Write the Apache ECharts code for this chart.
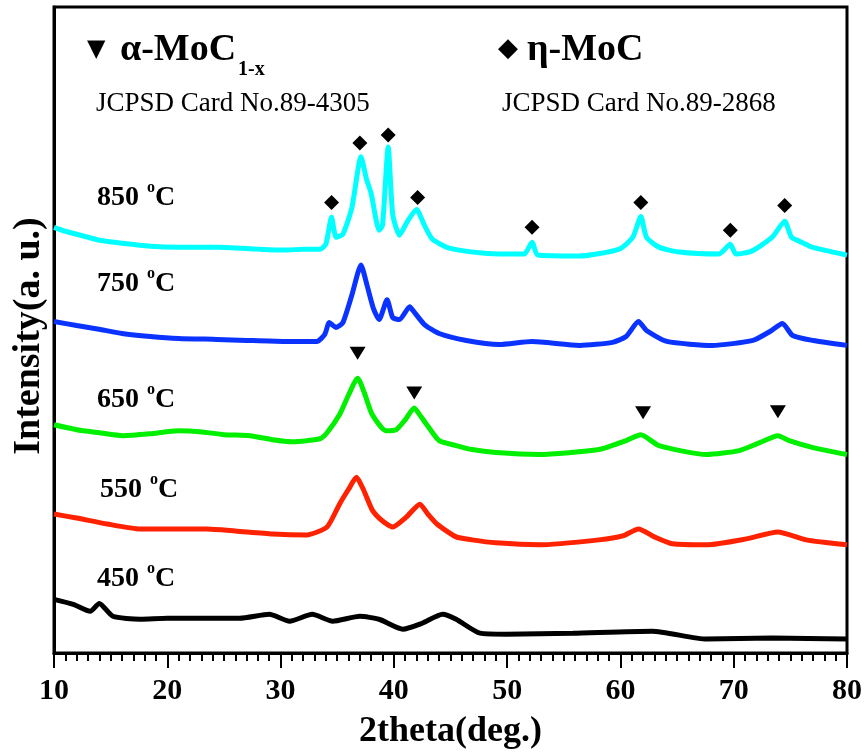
<!DOCTYPE html>
<html>
<head>
<meta charset="utf-8">
<script src="https://cdn.jsdelivr.net/npm/echarts@6/dist/echarts.min.js"></script>
<style>html,body{margin:0;padding:0;background:#fff}#c{width:865px;height:755px}</style>
</head>
<body>
<div id="c"></div>
<script>
// ---- data (2theta in degrees, intensity in arbitrary stacked units) ----
const tt850 = [10,11,12,13,14,16,18.5,21,24.5,28,30.4,32,33.5,34.0,34.5,34.9,35.5,36.3,37.1,37.6,38.0,38.7,39.0,39.5,39.9,40.5,41.2,42.0,42.7,43.4,44.9,47.8,50,51.5,52.2,52.7,56.4,59.9,61.1,61.8,62.3,63.4,65.2,68.7,69.7,70.2,71.6,73.4,74.5,75.1,75.8,76.9,80];
const int850 = [429,425,422,419,416,413,410,409,409,407,406,407,407,412,439,419,422,449,500,477,463,426,431,510,442,421,435,447,431,417,408,403,402,402,414,401,400,407,419,440,419,409,404,402,412,402,405,419,435,419,415,409,401];

const tt750 = [10,12,14.1,16,18.5,21,24.4,27,30.2,33.2,33.9,34.3,34.9,35.5,36.3,37.1,37.6,38.2,38.7,39.4,39.9,40.5,41.4,41.7,42.7,44.0,46.4,49.3,52.2,56.4,59.3,60.5,61.6,62.3,64.1,68.1,71.7,73.2,74.3,75.2,77.0,80];
const int750 = [334,330,326,322,319,317,316,315,314,314,321,333,328,333,361,391,372,347,336,356,338,336,349,345,331,322,315,311,314,310,313,319,334,325,314,310,315,324,332,320,315,310];

const tt650 = [10,12,14,16.1,18.5,21,22.9,25,27.3,29.3,31,32.3,33.5,34.1,35.2,36.0,36.8,37.4,38.1,39.3,40.2,41.0,41.8,42.4,43.1,44.0,45.5,46.9,49,52.8,58.1,60.5,61.8,63.4,67.6,70.5,72.3,73.9,74.9,77.0,80];
const int650 = [230,225,222,219,221,224,223,220,219,215,213,214,216,222,240,260,277,262,240,224,225,235,247,238,227,214,209,205,202,200,205,214,220,209,200,204,212,219,214,207,200];

const tt550 = [10,12,14.7,17.6,20,23.5,26,29.3,32.3,34.1,35.2,36.0,36.7,37.3,38.1,39.0,39.9,41.1,42.3,43.0,43.8,45.5,46.9,49,52.8,58.1,60.2,61.6,63.0,64.6,67.6,71.1,73.9,76.4,80];
const int550 = [140,136,130,125,125,125,123,120,119,127,150,165,177,165,144,133,127,137,150,140,130,117,114,111,109,114,118,125,117,110,109,115,122,114,109];

const tt450 = [10,11.7,13.2,14.0,15.2,17.6,20,23.5,26.4,29.0,30.8,32.8,34.6,37.0,38.7,40.8,42.5,44.3,45.5,47.6,49.9,55.8,62.8,67.6,73.4,80];
const int450 = [54,49,42,50,37,34,35,35,35,39,32,39,32,37,34,24,30,39,34,20,19,20,22,14,15,14];

// phase markers
const etaPos = [34.5,37.0,39.5,42.1,52.2,61.8,69.7,74.5];
const etaVal = [454,514,522,459,429,454,426,451];
const alphaPos = [36.8,41.8,62.0,73.9];
const alphaVal = [302,262,242,243];

const xTicks = [10,20,30,40,50,60,70,80];
const seriesNames = ['850 °C','750 °C','650 °C','550 °C','450 °C'];
const seriesColors = ['#00FFFF','#0A33FF','#00F000','#FF2200','#000000'];

// ---- build ----
function zip(a,b){return a.map((v,i)=>[v,b[i]]);}
const curves = [[tt850,int850],[tt750,int750],[tt650,int650],[tt550,int550],[tt450,int450]];

const serif = 'Liberation Serif, Times New Roman, serif';
const chart = echarts.init(document.getElementById('c'));

function tempLabel(x, y, num){
  return [
    {type:'text', left:x, top:y-15, style:{text:num, font:'bold 28px '+serif, fill:'#000'}},
    {type:'text', left:x+50, top:y-19, style:{text:'o', font:'bold 16px '+serif, fill:'#000'}},
    {type:'text', left:x+58, top:y-15, style:{text:'C', font:'bold 28px '+serif, fill:'#000'}}
  ];
}

const graphics = [].concat(
  tempLabel(97,199,'850'),
  tempLabel(97,285,'750'),
  tempLabel(97,401,'650'),
  tempLabel(100,491,'550'),
  tempLabel(97,580,'450'),
  [
    {type:'text', left:87, top:38, style:{text:'▼', font:'24px DejaVu Sans', fill:'#000'}},
    {type:'text', left:120, top:31, style:{text:'α-MoC', font:'bold 38px '+serif, fill:'#000'}},
    {type:'text', left:238, top:60, style:{text:'1-x', font:'bold 20px '+serif, fill:'#000'}},
    {type:'text', left:96, top:90, style:{text:'JCPSD Card No.89-4305', font:'27px '+serif, fill:'#000'}},
    {type:'text', left:498, top:36, style:{text:'◆', font:'26px DejaVu Sans', fill:'#000'}},
    {type:'text', left:527, top:31, style:{text:'η-MoC', font:'bold 38px '+serif, fill:'#000'}},
    {type:'text', left:502, top:90, style:{text:'JCPSD Card No.89-2868', font:'27px '+serif, fill:'#000'}},
    {type:'text', x:29, y:336, rotation:Math.PI/2,
      style:{text:'Intensity(a. u.)', font:'bold 38px '+serif, fill:'#000', align:'center', verticalAlign:'middle'}}
  ]
);

const series = curves.map((c,i)=>({
  name: seriesNames[i], type:'line', data: zip(c[0],c[1]),
  showSymbol:false, smooth:0.2, lineStyle:{color:seriesColors[i], width:5}, itemStyle:{color:seriesColors[i]},
  z: 2, animation:false
}));
series.push({type:'scatter', data: zip(etaPos,etaVal), symbol:'diamond', symbolSize:[15,15],
  itemStyle:{color:'#000', opacity:1}, z:5, animation:false});
series.push({type:'scatter', data: zip(alphaPos,alphaVal), symbol:'triangle', symbolRotate:180, symbolSize:[16,13],
  itemStyle:{color:'#000', opacity:1}, z:5, animation:false});

chart.setOption({
  animation:false,
  backgroundColor:'#fff',
  grid:{left:54, right:17, top:7, bottom:97, show:true, borderColor:'#000', borderWidth:3, backgroundColor:'transparent'},
  xAxis:{
    type:'value', min:10, max:80, interval:10,
    name:'2theta(deg.)', nameLocation:'middle', nameGap:61,
    nameTextStyle:{fontFamily:serif, fontWeight:'bold', fontSize:36, color:'#000'},
    axisLine:{show:true, lineStyle:{color:'#000', width:3}},
    axisTick:{show:true, inside:false, length:15, lineStyle:{color:'#000', width:2}},
    minorTick:{show:true, splitNumber:10, length:8, lineStyle:{color:'#000', width:2}},
    splitLine:{show:false},
    axisLabel:{margin:23, fontFamily:serif, fontWeight:'bold', fontSize:30, color:'#000',
      formatter:v=> xTicks.indexOf(v)>=0 ? String(v) : ''}
  },
  yAxis:{
    type:'value', min:0, max:651,
    axisLine:{show:true, lineStyle:{color:'#000', width:3}},
    axisTick:{show:false}, axisLabel:{show:false}, splitLine:{show:false}
  },
  graphic: graphics,
  series: series
});
</script>
</body>
</html>
